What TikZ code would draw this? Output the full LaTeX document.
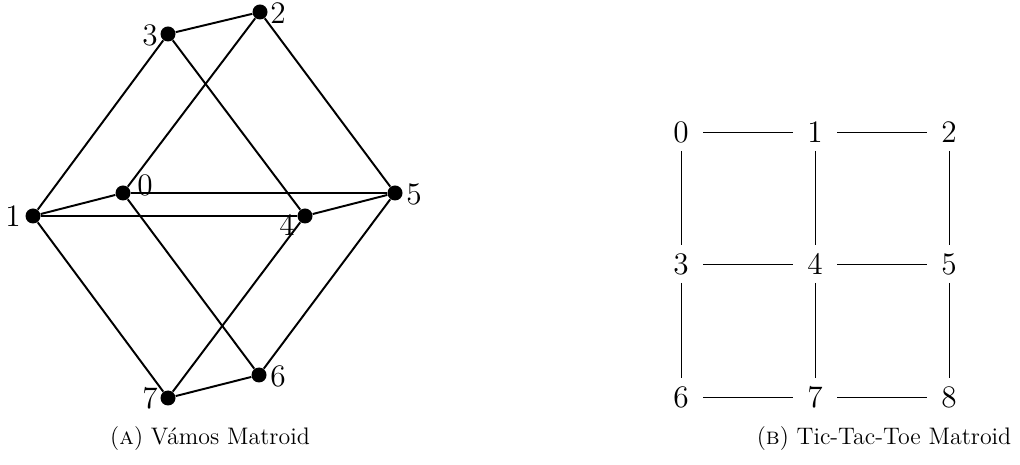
\documentclass[tikz,border=0pt]{standalone}
\begin{document}
\begin{tikzpicture}[x=0.46pt,y=-0.46pt,
  dot/.style={circle,fill=black,inner sep=0pt,minimum size=6.9pt},
  lbl/.style={inner sep=0pt,font=\Large},
  vedge/.style={line width=0.9pt},
  gnode/.style={inner sep=0pt,minimum width=20pt,minimum height=17pt,font=\Large},
  gedge/.style={line width=0.4pt},
  captext/.style={inner sep=0pt,font=\fontsize{11}{13}\selectfont}]
\useasboundingbox (0,0) rectangle (1020,465);
% Vamos
\node[dot] (v1) at (33,216) {};
\node[dot] (v0) at (123,193) {};
\node[dot] (v3) at (168,34) {};
\node[dot] (v2) at (260,12) {};
\node[dot] (v5) at (395,193) {};
\node[dot] (v4) at (305,216) {};
\node[dot] (v6) at (259,375) {};
\node[dot] (v7) at (168,398) {};
\node[lbl] (l1) at ([shift={(-20,0)}]v1) {1};
\node[lbl] (l0) at ([shift={(22,-8)}]v0) {0};
\node[lbl] (l5) at ([shift={(19,1)}]v5) {5};
\node[lbl] (l4) at ([shift={(-18,9)}]v4) {4};
\node[lbl] (l3) at ([shift={(-18,1)}]v3) {3};
\node[lbl] (l2) at ([shift={(18,1)}]v2) {2};
\node[lbl] (l6) at ([shift={(19,1)}]v6) {6};
\node[lbl] (l7) at ([shift={(-18,0)}]v7) {7};
\draw[vedge] (v1) -- (v3) -- (v2) -- (v5) -- (v6) -- (v7) -- (v1);
\draw[vedge] (v1) -- (v0) -- (v5);
\draw[vedge] (v1) -- (v4) -- (v5);
\draw[vedge] (v3) -- (v4) -- (v7);
\draw[vedge] (v2) -- (v0) -- (v6);
% Tic-Tac-Toe
\node[gnode] (g0) at (681,132) {0};
\node[gnode] (g1) at (815,132) {1};
\node[gnode] (g2) at (949,132) {2};
\node[gnode] (g3) at (681,264) {3};
\node[gnode] (g4) at (815,264) {4};
\node[gnode] (g5) at (949,264) {5};
\node[gnode] (g6) at (681,397) {6};
\node[gnode] (g7) at (815,397) {7};
\node[gnode] (g8) at (949,397) {8};
\draw[gedge] (g0) -- (g1) (g1) -- (g2) (g3) -- (g4) (g4) -- (g5) (g6) -- (g7) (g7) -- (g8);
\draw[gedge] (g0) -- (g3) (g3) -- (g6) (g1) -- (g4) (g4) -- (g7) (g2) -- (g5) (g5) -- (g8);
% captions
\node[captext] (ca) at (210,439) {(\textsc{a}) V\'amos Matroid};
\node[captext] (cb) at (884,439) {(\textsc{b}) Tic-Tac-Toe Matroid};
\end{tikzpicture}
\end{document}
